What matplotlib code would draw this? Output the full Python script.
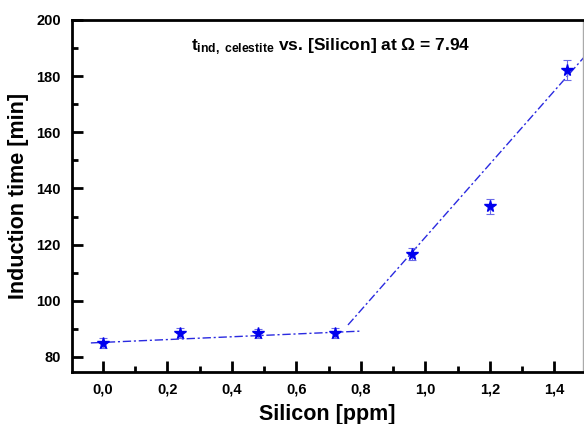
import numpy as np
import matplotlib.pyplot as plt
from matplotlib.ticker import MultipleLocator

plt.rcParams['font.family'] = ['Liberation Sans', 'DejaVu Sans']
plt.rcParams['mathtext.fontset'] = 'custom'
plt.rcParams['mathtext.rm'] = 'Liberation Sans:bold'
plt.rcParams['mathtext.it'] = 'Liberation Sans:bold'
plt.rcParams['mathtext.bf'] = 'Liberation Sans:bold'

silicon = [0.0, 0.24, 0.48, 0.72, 0.96, 1.20, 1.44]
t_ind = [85.0, 88.6, 88.4, 88.6, 116.6, 133.6, 182.2]
t_err = [1.8, 1.8, 1.6, 1.8, 2.2, 2.6, 3.6]

# fitted lines (end points)
fit_low_x = [-0.037, 0.80]
fit_low_y = [85.0, 89.2]
fit_high_x = [0.76, 1.49]
fit_high_y = [91.4, 186.5]

xticks = [0.0, 0.2, 0.4, 0.6, 0.8, 1.0, 1.2, 1.4]
xticklabels = ['0,0', '0,2', '0,4', '0,6', '0,8', '1,0', '1,2', '1,4']
yticks = [80, 100, 120, 140, 160, 180, 200]

fig = plt.figure(figsize=(5.84, 4.24), dpi=100)
ax = fig.add_axes([0.123, 0.123, 0.875, 0.830])

line_style = dict(color='#2a2ae0', lw=1.0, ls=(0, (6, 2, 1.5, 2)))
ax.plot(fit_low_x, fit_low_y, **line_style)
ax.plot(fit_high_x, fit_high_y, **line_style)

ax.errorbar(silicon, t_ind, yerr=t_err, fmt='*', ms=8.5, color='#0000ee',
            ecolor='#6a6ae8', elinewidth=0.8, capsize=3, capthick=0.8,
            zorder=5)

ax.set_xlim(-0.096, 1.488)
ax.set_ylim(74.7, 200)
ax.set_xticks(xticks)
ax.set_xticklabels(xticklabels)
ax.set_yticks(yticks)
ax.xaxis.set_minor_locator(MultipleLocator(0.1))
ax.yaxis.set_minor_locator(MultipleLocator(10))
ax.tick_params(which='both', direction='in', width=2, labelsize=10.5, pad=8)
ax.tick_params(which='major', length=8)
ax.tick_params(which='minor', length=4)
for lab in ax.get_xticklabels() + ax.get_yticklabels():
    lab.set_fontweight('bold')

for side in ['left', 'bottom', 'top']:
    ax.spines[side].set_linewidth(2)
ax.spines['right'].set_linewidth(1)
ax.spines['right'].set_color('#aaaaaa')

ax.set_xlabel('Silicon [ppm]', fontsize=15.5, fontweight='bold', labelpad=5)
ax.set_ylabel('Induction time [min]', fontsize=15.5, fontweight='bold',
              labelpad=5)

ax.text(0.507, 0.925, r'$\mathregular{t_{ind,\ celestite}}$ vs. [Silicon] at $\Omega$ = 7.94',
        transform=ax.transAxes, ha='center', va='center', fontsize=12.5,
        fontweight='bold')

plt.savefig('out.png', dpi=100)
